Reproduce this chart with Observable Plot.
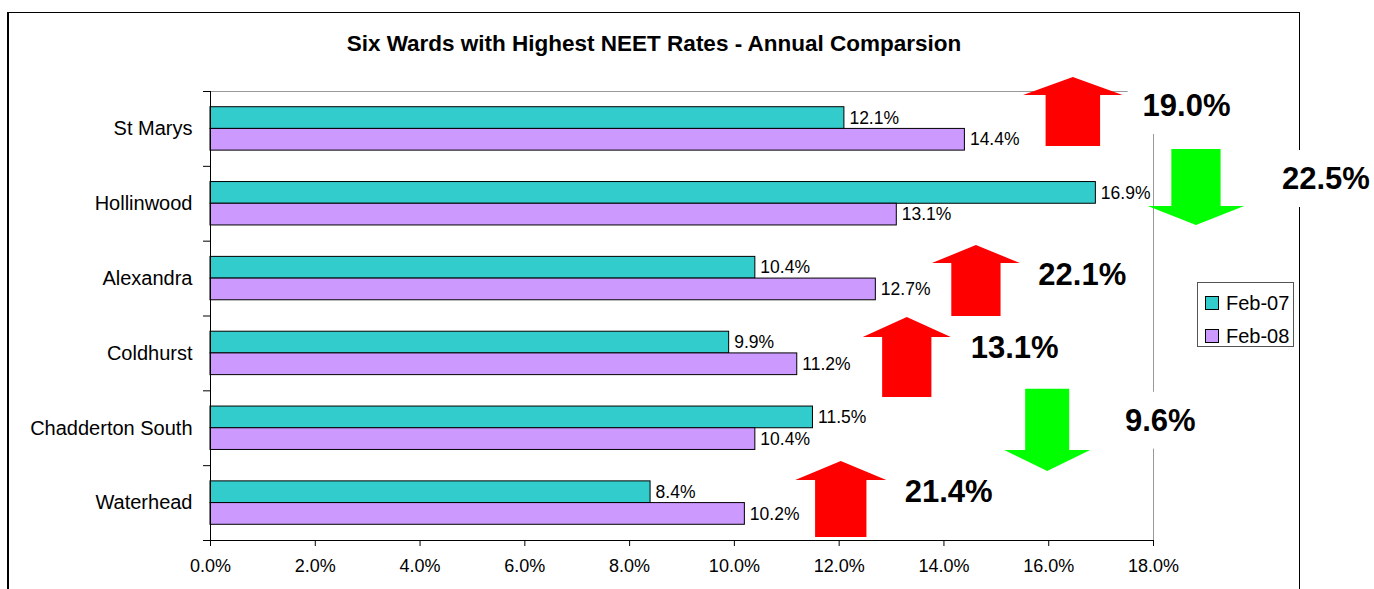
<!DOCTYPE html>
<html>
<head>
<meta charset="utf-8">
<script src="https://cdn.jsdelivr.net/npm/d3@7"></script>
<script src="https://cdn.jsdelivr.net/npm/@observablehq/plot@0.6"></script>
<style>
  html, body { margin: 0; padding: 0; overflow: hidden; background: #fff; width: 1374px; height: 589px; }
  body { font-family: "Liberation Sans", Arial, sans-serif; position: relative; }
  #frame { position: absolute; left: 7px; top: 12px; width: 1293px; height: 640px; box-sizing: border-box;
           border: 1px solid #000; border-left-width: 2px; z-index: 0; }
  #title { position: relative; z-index: 2; height: 60px; box-sizing: border-box; padding-top: 31px; margin-left: 8px; width: 1292px;
           text-align: center; font-weight: bold; font-size: 22.5px; line-height: 26px; color: #000; }
  #chart { position: relative; z-index: 1; }
  #chart svg { display: block; background: transparent; overflow: visible; }
  #legend { position: absolute; z-index: 3; left: 1197px; top: 282px; width: 97px; height: 65px; box-sizing: border-box;
            border: 1px solid #555; background: #fff; font-size: 20px; color: #000; }
  .item { position: absolute; left: 7px; height: 20px; line-height: 20px; white-space: nowrap; }
  .sw { position: absolute; left: 0; top: 3px; width: 14px; height: 14px; box-sizing: border-box; border: 1px solid #000; }
  .lab { position: absolute; left: 21px; top: 0; }
</style>
</head>
<body>
<div id="frame"></div>
<div id="title"></div>
<div id="chart"></div>
<div id="legend"></div>
<script>
// ---- data ----
const title = "Six Wards with Highest NEET Rates - Annual Comparsion";
const wards = ["St Marys", "Hollinwood", "Alexandra", "Coldhurst", "Chadderton South", "Waterhead"];
const series = ["Feb-07", "Feb-08"];
const feb07 = [12.1, 16.9, 10.4, 9.9, 11.5, 8.4];
const feb08 = [14.4, 13.1, 12.7, 11.2, 10.4, 10.2];
const changeLabels = ["19.0%", "22.5%", "22.1%", "13.1%", "9.6%", "21.4%"];
const xTicks = [0, 2, 4, 6, 8, 10, 12, 14, 16, 18];

// ---- styles / annotation layout (data units: x in %, y in ward rows) ----
const seriesColors = ["#33CCCC", "#CC99FF"];
const upColor = "#FF0000", downColor = "#00FF00";
// arrow geometry for each ward: centre, half head width, half shaft width, tail, shoulder, tip
const arrowLayout = [
  {cx: 16.47, head: 0.95, shaft: 0.52, tail: 0.735, shoulder: 0.053, tip: -0.187},
  {cx: 18.82, head: 0.92, shaft: 0.47, tail: 0.775, shoulder: 1.537, tip: 1.791},
  {cx: 14.62, head: 0.84, shaft: 0.47, tail: 3.007, shoulder: 2.299, tip: 2.058},
  {cx: 13.30, head: 0.84, shaft: 0.47, tail: 4.089, shoulder: 3.287, tip: 3.020},
  {cx: 15.98, head: 0.82, shaft: 0.42, tail: 3.980, shoulder: 4.797, tip: 5.078},
  {cx: 12.04, head: 0.87, shaft: 0.49, tail: 5.960, shoulder: 5.198, tip: 4.945}
];
const labelLayout = [
  {x: 18.63, y: 0.20}, {x: 21.29, y: 1.176}, {x: 16.64, y: 2.459},
  {x: 15.35, y: 3.428}, {x: 18.13, y: 4.403}, {x: 14.09, y: 5.352}
];

document.getElementById("title").textContent = title;

const bars = wards.flatMap((w, i) => [
  {ward: w, series: series[0], value: feb07[i], y1: i + 0.21, y2: i + 0.5},
  {ward: w, series: series[1], value: feb08[i], y1: i + 0.5, y2: i + 0.79}
]);

const arrowPts = arrowLayout.flatMap((a, i) => {
  const up = feb08[i] > feb07[i];
  return [
    {id: i, up, y: a.tail, x1: a.cx - a.shaft, x2: a.cx + a.shaft},
    {id: i, up, y: a.shoulder, x1: a.cx - a.shaft, x2: a.cx + a.shaft},
    {id: i, up, y: a.shoulder, x1: a.cx - a.head, x2: a.cx + a.head},
    {id: i, up, y: a.tip, x1: a.cx, x2: a.cx}
  ];
});

const changeData = changeLabels.map((t, i) => ({text: t, x: labelLayout[i].x, y: labelLayout[i].y}));

const chart = Plot.plot({
  width: 1374,
  height: 529,
  marginLeft: 210,
  marginRight: 221,
  marginTop: 31,
  marginBottom: 49,
  style: {fontFamily: "'Liberation Sans', Arial, sans-serif", color: "#000", background: "transparent", overflow: "visible"},
  x: {domain: [0, 18]},
  y: {domain: [0, 6], reverse: true},
  color: {domain: series, range: seriesColors},
  marks: [
    Plot.frame({stroke: "#999"}),
    Plot.rect(bars, {x1: d => 0, x2: "value", y1: "y1", y2: "y2", fill: "series", stroke: "#000", strokeWidth: 1}),
    Plot.text(bars, {x: "value", y: d => (d.y1 + d.y2) / 2, text: d => d.value.toFixed(1) + "%",
      textAnchor: "start", dx: 5, fontSize: 17.5, fill: "#000"}),
    Plot.ruleX([0], {y1: 0, y2: 6, stroke: "#000"}),
    Plot.ruleY([6], {stroke: "#000"}),
    Plot.axisX(xTicks, {tickSize: 6, tickPadding: 13, tickFormat: d => d.toFixed(1) + "%", fontSize: 18, stroke: "#000", fill: "#000"}),
    Plot.axisY(d3.range(0, 7), {tickSize: 7, tickFormat: () => "", stroke: "#000"}),
    Plot.axisY(d3.range(0, 6).map(i => i + 0.5), {tickSize: 0, tickPadding: 18, tickFormat: v => wards[Math.floor(v)], fontSize: 20, fill: "#000"}),
    Plot.areaX(arrowPts.filter(d => d.up), {y: "y", x1: "x1", x2: "x2", z: "id", fill: upColor, curve: "linear"}),
    Plot.areaX(arrowPts.filter(d => !d.up), {y: "y", x1: "x1", x2: "x2", z: "id", fill: downColor, curve: "linear"}),
    Plot.text(changeData, {x: "x", y: "y", text: "text", fontSize: 31, fontWeight: "bold", fill: "#000",
      stroke: "#fff", strokeWidth: 36, strokeLinejoin: "round", paintOrder: "stroke", textAnchor: "middle"})
  ]
});
document.getElementById("chart").appendChild(chart);

// legend
const legend = document.getElementById("legend");
series.forEach((s, i) => {
  const item = document.createElement("div");
  item.className = "item";
  item.style.top = (10 + i * 33) + "px";
  const sw = document.createElement("div");
  sw.className = "sw";
  sw.style.background = seriesColors[i];
  const lab = document.createElement("div");
  lab.className = "lab";
  lab.textContent = s;
  item.appendChild(sw);
  item.appendChild(lab);
  legend.appendChild(item);
});
</script>
</body>
</html>
